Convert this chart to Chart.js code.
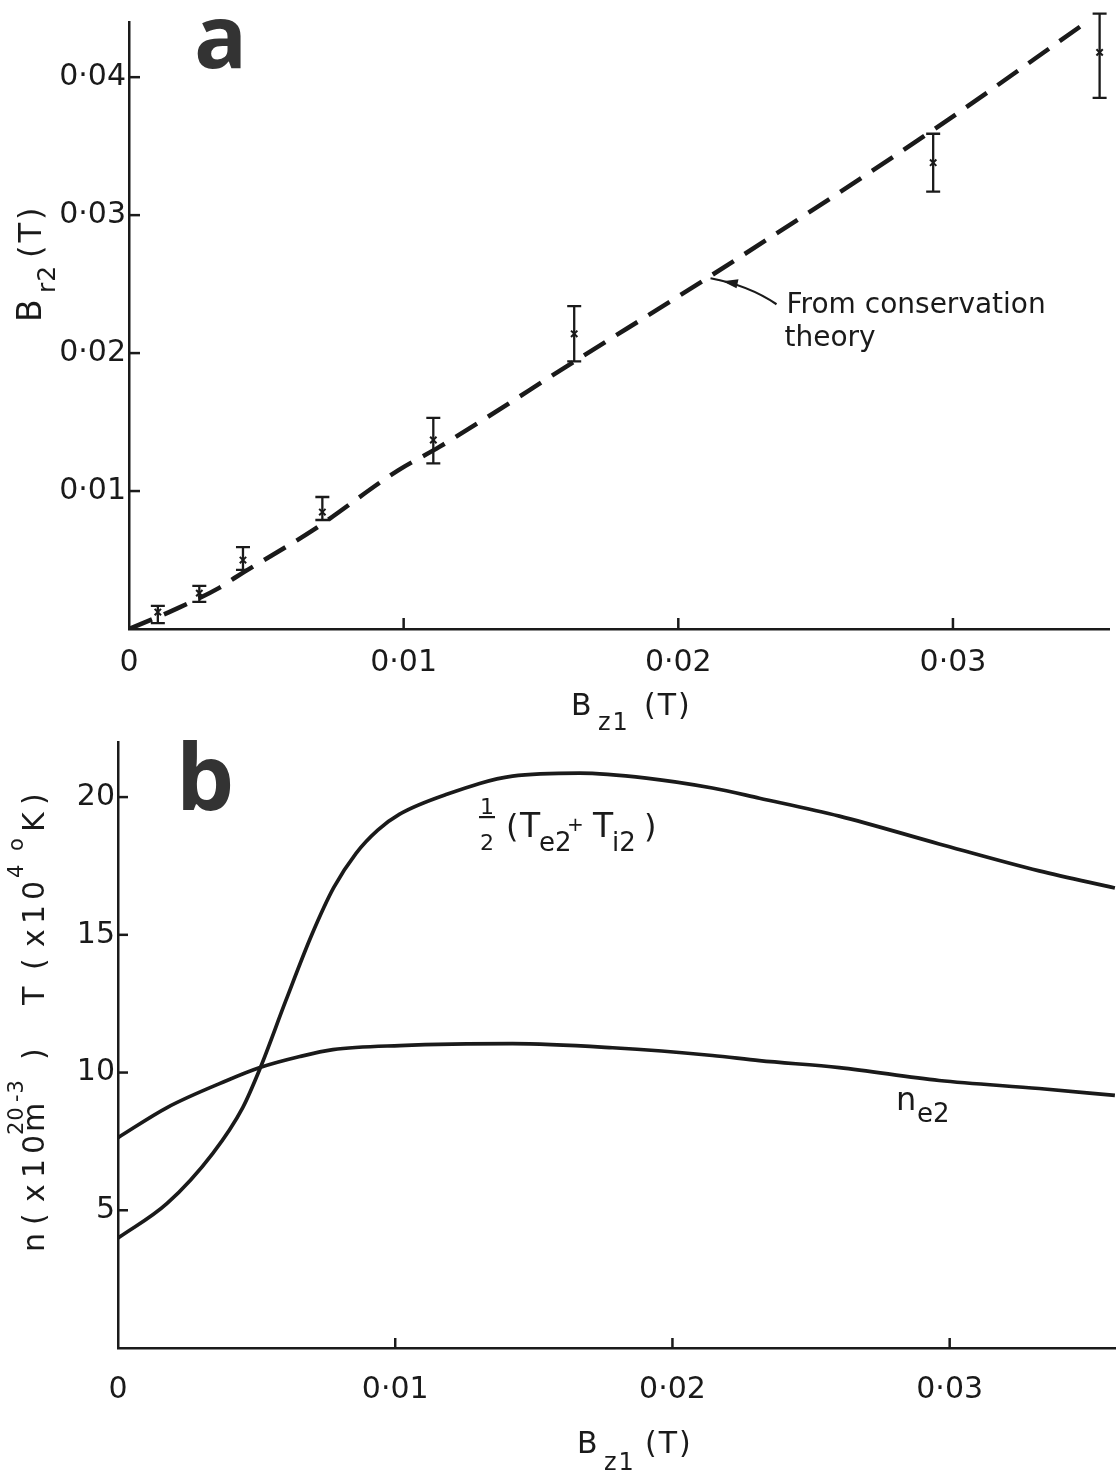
<!DOCTYPE html>
<html><head><meta charset="utf-8">
<script src="https://cdn.jsdelivr.net/npm/chart.js@4.4.1/dist/chart.umd.min.js"></script>
<style>
html,body{margin:0;padding:0;background:#fff;}
#wa{position:absolute;left:0;top:0;width:1116px;height:740px;z-index:2;}
#wb{position:absolute;left:0;top:720px;width:1116px;height:753px;z-index:1;}
</style></head><body>
<div id="wa"><canvas id="ca"></canvas></div>
<div id="wb"><canvas id="cb"></canvas></div>
<script>
// ---------- Panel a data ----------
const xTicksA = [0, 0.01, 0.02, 0.03];
const yTicksA = [0.01, 0.02, 0.03, 0.04];
const measX    = [0.00105, 0.00256, 0.00415, 0.00704, 0.01108, 0.01621, 0.02928, 0.03534];
const measY    = [0.00123, 0.0026,  0.0050,  0.00848, 0.0137,  0.0214,  0.0338,  0.0418];
const measLow  = [0.00043, 0.00196, 0.00428, 0.0079,  0.0120,  0.0194,  0.0317,  0.0385];
const measHigh = [0.00167, 0.00312, 0.00594, 0.00957, 0.0153,  0.0234,  0.0359,  0.0446];
const theoryX  = [0, 0.0016, 0.0033, 0.0039, 0.0067, 0.0098, 0.0113, 0.0163, 0.0211, 0.0293, 0.0348];
const theoryY  = [0, 0.00135, 0.0030, 0.00377, 0.00717, 0.0115, 0.0132, 0.0195, 0.0255, 0.0362, 0.0439];
const theoryNote = {x: 0.0211, y: 0.0255, lines: ["From conservation", "theory"]};

// ---------- Panel b data ----------
const xTicksB = [0, 0.01, 0.02, 0.03];
const yTicksB = [5, 10, 15, 20];
const tempX = [0, 0.00177, 0.00342, 0.0045, 0.00512, 0.00605, 0.00699, 0.00778, 0.00858, 0.00937, 0.01016, 0.01186, 0.01423, 0.01665, 0.01906, 0.02144, 0.02314, 0.02602, 0.02962, 0.03323, 0.03596];
const tempY = [3.99, 5.25, 7.07, 8.73, 10.14, 12.6, 15.0, 16.71, 17.95, 18.8, 19.38, 20.1, 20.76, 20.87, 20.69, 20.33, 19.96, 19.31, 18.30, 17.32, 16.70];
const densX = [0, 0.00177, 0.00393, 0.00512, 0.00656, 0.00775, 0.01016, 0.01423, 0.01784, 0.02144, 0.02314, 0.02602, 0.02962, 0.03323, 0.03596];
const densY = [7.64, 8.73, 9.71, 10.18, 10.58, 10.83, 10.98, 11.05, 10.9, 10.62, 10.43, 10.18, 9.71, 9.42, 9.17];

const FONT = "'DejaVu Sans', 'Open Sans', sans-serif";
const LETTER_FONT = "'Open Sans', 'DejaVu Sans', sans-serif";
const INK = '#1a1a1a';
const fmtTick = v => v === 0 ? '0' : v.toFixed(2).replace('.', '\u00B7');

// draw text runs; each run may carry an absolute offset "at" along the writing direction
function drawRuns(ctx, runs, x, y, rotate) {
  ctx.save();
  ctx.translate(x, y);
  if (rotate) ctx.rotate(-Math.PI / 2);
  ctx.fillStyle = INK; ctx.textAlign = 'left'; ctx.textBaseline = 'alphabetic';
  let cx = 0;
  runs.forEach(r => {
    ctx.font = `${r.w || 'normal'} ${r.s}px ${FONT}`;
    ctx.letterSpacing = (r.ls || 0) + 'px';
    if (r.at !== undefined) cx = r.at;
    ctx.fillText(r.t, cx, r.dy || 0);
    cx += ctx.measureText(r.t).width;
  });
  ctx.restore();
}

const innerTicks = {
  id: 'innerTicks',
  afterDraw(chart, args, o) {
    const {ctx, chartArea, scales} = chart;
    ctx.save(); ctx.strokeStyle = INK; ctx.lineWidth = 2.5;
    o.xTicks.forEach(v => {
      if (v === 0) return;
      const px = scales.x.getPixelForValue(v);
      ctx.beginPath(); ctx.moveTo(px, chartArea.bottom); ctx.lineTo(px, chartArea.bottom - o.len); ctx.stroke();
    });
    o.yTicks.forEach(v => {
      const py = scales.y.getPixelForValue(v);
      ctx.beginPath(); ctx.moveTo(chartArea.left, py); ctx.lineTo(chartArea.left + o.len, py); ctx.stroke();
    });
    ctx.restore();
  }
};

const errorBars = {
  id: 'errorBars',
  afterDatasetsDraw(chart) {
    const {ctx, scales: {x, y}} = chart;
    ctx.save(); ctx.strokeStyle = INK; ctx.lineWidth = 2.3;
    measX.forEach((v, i) => {
      const px = x.getPixelForValue(v);
      const pl = y.getPixelForValue(measLow[i]);
      const ph = y.getPixelForValue(measHigh[i]);
      ctx.beginPath();
      ctx.moveTo(px, pl); ctx.lineTo(px, ph);
      ctx.moveTo(px - 7, pl); ctx.lineTo(px + 7, pl);
      ctx.moveTo(px - 7, ph); ctx.lineTo(px + 7, ph);
      ctx.stroke();
    });
    ctx.restore();
  }
};

const decorA = {
  id: 'decorA',
  afterDraw(chart) {
    const {ctx, scales: {x, y}} = chart;
    ctx.save(); ctx.fillStyle = '#333'; ctx.font = `bold 88px ${LETTER_FONT}`; ctx.textBaseline = 'alphabetic';
    ctx.fillText('a', 194, 68); ctx.restore();
    // y title  B_r2(T)
    drawRuns(ctx, [{t: 'B', s: 33}, {t: 'r2', s: 25, dy: 14, at: 29, ls: 1}, {t: '(T)', s: 32, at: 64, ls: 3}], 41, 322, true);
    // x title  B_z1 (T)
    drawRuns(ctx, [{t: 'B', s: 30}, {t: 'z1', s: 24, dy: 15, at: 27, ls: 2}, {t: '(T)', s: 30, at: 73, ls: 2}], 571, 715, false);
    // annotation
    const ax = x.getPixelForValue(theoryNote.x), ay = y.getPixelForValue(theoryNote.y);
    ctx.save(); ctx.strokeStyle = INK; ctx.fillStyle = INK; ctx.lineWidth = 2.2;
    ctx.beginPath(); ctx.moveTo(ax + 2, ay + 1);
    ctx.quadraticCurveTo(ax + 40, ay + 8, ax + 68, ay + 27); ctx.stroke();
    ctx.beginPath(); ctx.moveTo(ax + 14, ay + 4); ctx.lineTo(ax + 30, ay + 2); ctx.lineTo(ax + 28, ay + 11); ctx.closePath(); ctx.fill();
    ctx.font = `28px ${FONT}`; ctx.textBaseline = 'alphabetic';
    ctx.fillText(theoryNote.lines[0], ax + 78, ay + 36);
    ctx.fillText(theoryNote.lines[1], ax + 76, ay + 69);
    ctx.restore();
  }
};

const decorB = {
  id: 'decorB',
  afterDraw(chart) {
    const {ctx} = chart;
    ctx.save(); ctx.fillStyle = '#333'; ctx.font = `bold 92px ${LETTER_FONT}`; ctx.textBaseline = 'alphabetic';
    ctx.fillText('b', 176, 90); ctx.restore();
    // y title  n (x10^20 m^-3)  T (x10^4 oK)
    const sup = -21;
    drawRuns(ctx, [
      {t: 'n', s: 30, at: 0}, {t: '(', s: 30, at: 27}, {t: 'x', s: 30, at: 50}, {t: '10', s: 30, at: 74, ls: 5},
      {t: '20', s: 21, dy: sup, at: 117, ls: 1}, {t: 'm', s: 30, at: 120}, {t: '-3', s: 21, dy: sup, at: 150, ls: 1},
      {t: ')', s: 30, at: 192},
      {t: 'T', s: 30, at: 247}, {t: '(', s: 30, at: 282}, {t: 'x', s: 30, at: 305}, {t: '10', s: 30, at: 328, ls: 5},
      {t: '4', s: 21, dy: sup, at: 374}, {t: 'o', s: 21, dy: sup, at: 401}, {t: 'K', s: 30, at: 420}, {t: ')', s: 30, at: 447}
    ], 44, 532, true);
    // x title
    drawRuns(ctx, [{t: 'B', s: 30}, {t: 'z1', s: 24, dy: 17, at: 27, ls: 2}, {t: '(T)', s: 30, at: 68, ls: 2}], 577, 733, false);
    // curve label 1/2 (Te2 + Ti2)
    ctx.save(); ctx.fillStyle = INK; ctx.font = `22px ${FONT}`; ctx.textAlign = 'center';
    ctx.fillText('1', 487, 94);
    ctx.fillText('2', 487, 130);
    ctx.fillRect(479, 96, 16, 2.2);
    ctx.restore();
    drawRuns(ctx, [{t: '(', s: 32, at: 0}, {t: 'T', s: 33, at: 14}, {t: 'e2', s: 26, dy: 14, at: 33},
      {t: '+', s: 20, dy: -6, at: 61}, {t: 'T', s: 33, at: 87}, {t: 'i2', s: 26, dy: 14, at: 106}, {t: ')', s: 32, at: 138}], 506, 117, false);
    // n_e2
    drawRuns(ctx, [{t: 'n', s: 32}, {t: 'e2', s: 26, dy: 12, at: 21}], 896, 390, false);
  }
};

function axisCommon(min, max, ticks, fit, isX, pad) {
  return {
    type: 'linear', min, max,
    afterBuildTicks: s => { s.ticks = ticks.map(v => ({value: v})); },
    afterFit: s => { if (isX) s.height = fit; else s.width = fit; },
    grid: {display: false, drawTicks: false},
    border: {display: true, color: INK, width: 2.5},
    ticks: {
      font: {family: FONT, size: 30}, color: INK, padding: pad,
      maxRotation: 0, autoSkip: false, callback: v => fmtTick(v)
    }
  };
}

Chart.defaults.animation = false;

new Chart(document.getElementById('ca'), {
  type: 'scatter',
  data: {datasets: [
    {type: 'line', data: theoryX.map((v, i) => ({x: v, y: theoryY[i]})), borderColor: INK, borderWidth: 4.5,
     borderDash: [25, 13], pointRadius: 0, cubicInterpolationMode: 'monotone', fill: false},
    {type: 'scatter', data: measX.map((v, i) => ({x: v, y: measY[i]})), pointStyle: 'crossRot', pointRadius: 4.5,
     borderColor: INK, borderWidth: 2, backgroundColor: INK}
  ]},
  options: {
    responsive: true, maintainAspectRatio: false,
    layout: {padding: {top: 22, left: 0, right: 0, bottom: 0}},
    plugins: {legend: {display: false}, tooltip: {enabled: false},
      innerTicks: {xTicks: xTicksA, yTicks: yTicksA, len: 11}},
    scales: {
      x: axisCommon(0, 0.0357, xTicksA, 111, true, 16),
      y: axisCommon(0, 0.044, yTicksA, 129, false, 3)
    }
  },
  plugins: [innerTicks, errorBars, decorA]
});

const yB = axisCommon(0, 22, yTicksB, 118, false, 3);
yB.ticks.callback = v => String(v);
new Chart(document.getElementById('cb'), {
  type: 'scatter',
  data: {datasets: [
    {type: 'line', data: tempX.map((v, i) => ({x: v, y: tempY[i]})), borderColor: INK, borderWidth: 3.7,
     pointRadius: 0, cubicInterpolationMode: 'monotone', fill: false},
    {type: 'line', data: densX.map((v, i) => ({x: v, y: densY[i]})), borderColor: INK, borderWidth: 3.7,
     pointRadius: 0, cubicInterpolationMode: 'monotone', fill: false}
  ]},
  options: {
    responsive: true, maintainAspectRatio: false,
    layout: {padding: {top: 22, left: 0, right: 0, bottom: 0}},
    plugins: {legend: {display: false}, tooltip: {enabled: false},
      innerTicks: {xTicks: xTicksB, yTicks: yTicksB, len: 10}},
    scales: {
      x: axisCommon(0, 0.036, xTicksB, 125, true, 24),
      y: yB
    }
  },
  plugins: [innerTicks, decorB]
});
</script>
</body></html>
